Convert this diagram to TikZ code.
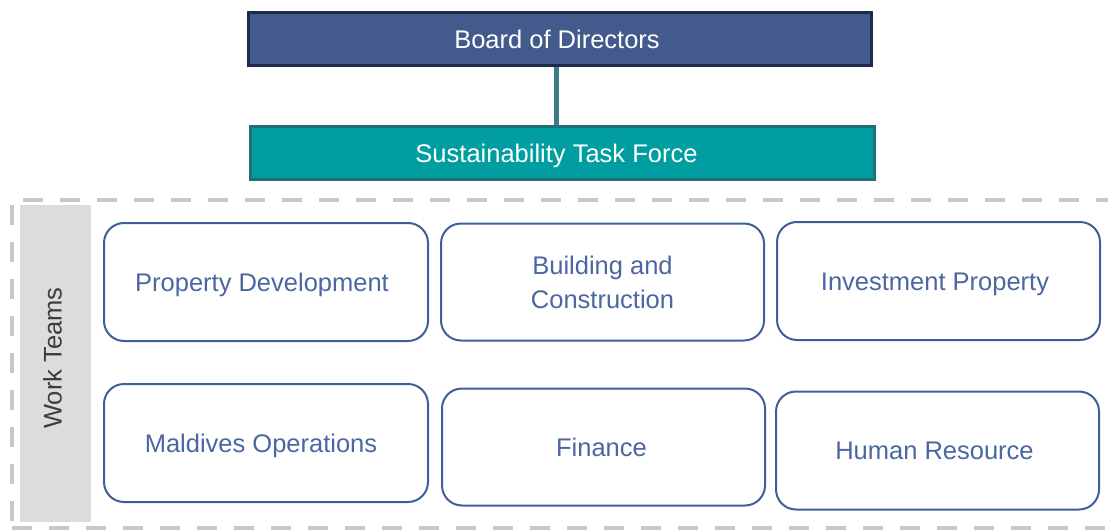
\documentclass[tikz,border=0pt]{standalone}
\usepackage{fontspec}
\setmainfont{Liberation Sans}
\begin{document}
\begin{tikzpicture}[x=1pt,y=-1pt,
  txt/.style={font=\fontsize{25.5}{34}\selectfont},
  capc/.style={text height=18.3pt,text depth=0pt},
  tshift/.style={execute at begin node={\kern-#1}},
  topbox/.style={txt,capc,rectangle,draw,line width=3pt,inner sep=0pt,text=white},
  team/.style={txt,rectangle,rounded corners=20pt,draw=teamblue,line width=2pt,
    inner sep=0pt,text=teamtext},
  dashline/.style={draw=dashgray,line width=4pt,dash pattern=on 20pt off 17pt}]
\definecolor{boardfill}{HTML}{435B8C}
\definecolor{boardline}{HTML}{1E2B48}
\definecolor{tffill}{HTML}{009EA0}
\definecolor{tfline}{HTML}{236E78}
\definecolor{conn}{HTML}{3D7B87}
\definecolor{teamblue}{HTML}{3F5F9A}
\definecolor{teamtext}{HTML}{4B66A0}
\definecolor{bandgray}{HTML}{DCDCDE}
\definecolor{dashgray}{HTML}{C8C8C8}
\definecolor{wttext}{HTML}{3C3C3C}
\useasboundingbox (0,0) rectangle (1108,532);
% dashed frame
\path[dashline] (23,200) -- (1108,200);
\path[dashline] (12,205) -- (12,528);
\path[dashline] (12,528) -- (1108,528);
% band
\node[rectangle,fill=bandgray,inner sep=0pt,minimum width=71pt,minimum height=317pt] (band) at (55.5,363.5) {};
\node[txt,capc,text=wttext,rotate=90] (wt) at (52.5,358) {Work Teams};
% top boxes
\node[topbox,tshift=6pt,fill=boardfill,draw=boardline,minimum width=623pt,minimum height=53pt] (board) at (560,39.5) {Board of Directors};
\node[topbox,tshift=12pt,fill=tffill,draw=tfline,minimum width=624pt,minimum height=53pt] (tf) at (562.5,153) {Sustainability Task Force};
\draw[conn,line width=5pt] ([xshift=-4pt]board.south) -- ([xshift=-4pt]board.south |- tf.north);
% teams
\node[team,capc,tshift=8pt,minimum width=324pt,minimum height=118pt] (pd) at (266,282) {Property Development};
\node[team,align=center,minimum width=323pt,minimum height=117pt] (bc) at (602.5,282) {Building and\\Construction};
\node[team,capc,tshift=7pt,minimum width=323pt,minimum height=118pt] (ip) at (938.5,281) {Investment Property};
\node[team,capc,tshift=10pt,minimum width=324pt,minimum height=118pt] (mo) at (266,443) {Maldives Operations};
\node[team,capc,tshift=4pt,minimum width=323pt,minimum height=117pt] (fin) at (603.5,447) {Finance};
\node[team,capc,tshift=6pt,minimum width=323pt,minimum height=118pt] (hr) at (937.5,450.5) {Human Resource};
\end{tikzpicture}
\end{document}
